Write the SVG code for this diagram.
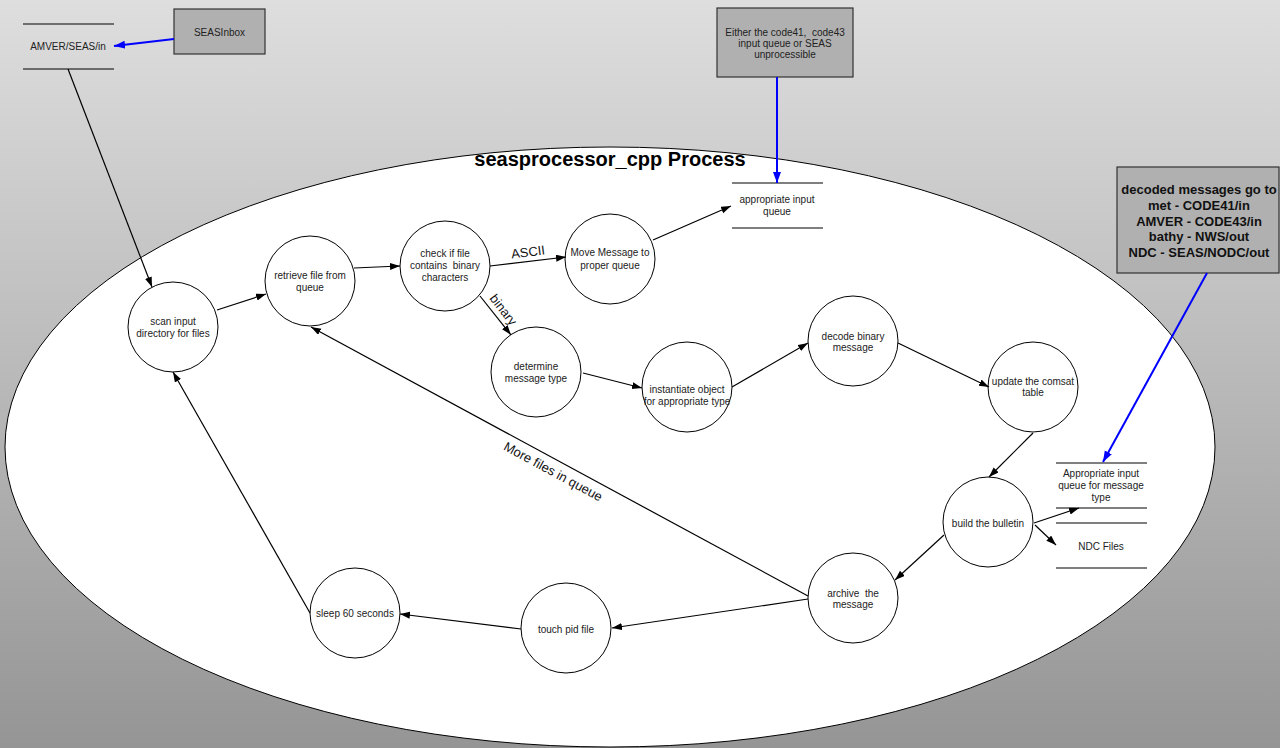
<svg xmlns="http://www.w3.org/2000/svg" width="1280" height="748" viewBox="0 0 1280 748">
<defs>
<linearGradient id="bg" x1="0" y1="0" x2="0" y2="1">
<stop offset="0" stop-color="#dedede"/>
<stop offset="1" stop-color="#959595"/>
</linearGradient>
<marker id="ah" markerUnits="userSpaceOnUse" markerWidth="11" markerHeight="8" refX="10" refY="3.5" orient="auto">
<path d="M0,0 L10,3.5 L0,7 z" fill="#000"/>
</marker>
<marker id="ahb" markerUnits="userSpaceOnUse" markerWidth="12" markerHeight="9" refX="11" refY="4" orient="auto">
<path d="M0,0 L11,4 L0,8 z" fill="#0000ff"/>
</marker>
<style>
.n circle{fill:#fff;stroke:#000;stroke-width:1}
.t{font-family:"Liberation Sans",Arial,sans-serif;font-size:10px;fill:#222;text-anchor:middle}
.st line{stroke:#000;stroke-width:1.2}
.box rect{fill:#b0b0b0;stroke:#333;stroke-width:1.2}
.c line{stroke:#000;stroke-width:1.2;marker-end:url(#ah)}
.c line.b{stroke:#0000ff;stroke-width:2;marker-end:url(#ahb)}
.lbl{font-family:"Liberation Sans",Arial,sans-serif;font-size:13px;fill:#111;text-anchor:middle}
.bt{font-family:"Liberation Sans",Arial,sans-serif;font-size:13px;font-weight:bold;fill:#111;text-anchor:middle}
</style>
</defs>
<rect x="0" y="0" width="1280" height="748" fill="url(#bg)"/>
<g id="process-boundary">
<ellipse cx="610" cy="447" rx="605" ry="300" fill="#fff" stroke="#000" stroke-width="1"/>
<text x="610" y="166" font-family="Liberation Sans,Arial,sans-serif" font-size="20" font-weight="bold" text-anchor="middle" fill="#000">seasprocessor_cpp Process</text>
</g>

<g id="store-amver" class="st">
<line x1="23" y1="24" x2="114" y2="24"/><line x1="23" y1="69" x2="114" y2="69"/>
<text class="t" x="68" y="49.5">AMVER/SEAS/in</text>
</g>
<g id="box-seasinbox" class="box">
<rect x="174" y="9" width="91" height="45"/>
<text class="t" x="219.5" y="35.5">SEASInbox</text>
</g>
<g id="box-either" class="box">
<rect x="717" y="8" width="136" height="69"/>
<text class="t" x="785" y="35.5" xml:space="preserve">Either the code41,  code43</text>
<text class="t" x="785" y="46.5">input queue or SEAS</text>
<text class="t" x="785" y="57.5">unprocessible</text>
</g>
<g id="box-decoded" class="box">
<rect x="1117" y="167" width="162" height="106"/>
<text class="bt" x="1199" y="194">decoded messages go to</text>
<text class="bt" x="1199" y="209.8">met - CODE41/in</text>
<text class="bt" x="1199" y="225.6">AMVER - CODE43/in</text>
<text class="bt" x="1199" y="241.4">bathy - NWS/out</text>
<text class="bt" x="1199" y="257.2">NDC - SEAS/NODC/out</text>
</g>
<g id="store-appropriate-input" class="st">
<line x1="732" y1="183" x2="823" y2="183"/><line x1="732" y1="228" x2="823" y2="228"/>
<text class="t" x="777" y="203">appropriate input</text>
<text class="t" x="777" y="215">queue</text>
</g>
<g id="store-msgtype-queue" class="st">
<line x1="1056" y1="463" x2="1147" y2="463"/><line x1="1056" y1="508" x2="1147" y2="508"/>
<text class="t" x="1101" y="477">Appropriate input</text>
<text class="t" x="1101" y="489">queue for message</text>
<text class="t" x="1101" y="501">type</text>
</g>
<g id="store-ndc" class="st">
<line x1="1056" y1="523" x2="1147" y2="523"/><line x1="1056" y1="568" x2="1147" y2="568"/>
<text class="t" x="1101" y="549.5">NDC Files</text>
</g>

<g id="n-scan" class="n"><circle cx="173" cy="327" r="45"/>
<text class="t" x="173" y="325">scan input</text><text class="t" x="173" y="337">directory for files</text></g>
<g id="n-retrieve" class="n"><circle cx="310" cy="281" r="45"/>
<text class="t" x="310" y="279">retrieve file from</text><text class="t" x="310" y="291">queue</text></g>
<g id="n-check" class="n"><circle cx="445" cy="266" r="45"/>
<text class="t" x="445" y="257">check if file</text><text class="t" x="445" y="269" xml:space="preserve">contains  binary</text><text class="t" x="445" y="281">characters</text></g>
<g id="n-move" class="n"><circle cx="610" cy="259" r="45"/>
<text class="t" x="610" y="256">Move Message to</text><text class="t" x="610" y="269">proper queue</text></g>
<g id="n-determine" class="n"><circle cx="536" cy="372" r="45"/>
<text class="t" x="536" y="370">determine</text><text class="t" x="536" y="382">message type</text></g>
<g id="n-instantiate" class="n"><circle cx="687" cy="387" r="45"/>
<text class="t" x="687" y="393">instantiate object</text><text class="t" x="687" y="405">for appropriate type</text></g>
<g id="n-decode" class="n"><circle cx="853" cy="341" r="45"/>
<text class="t" x="853" y="339.5">decode binary</text><text class="t" x="853" y="351">message</text></g>
<g id="n-update" class="n"><circle cx="1033" cy="387" r="45"/>
<text class="t" x="1033" y="384.5">update the comsat</text><text class="t" x="1033" y="396">table</text></g>
<g id="n-build" class="n"><circle cx="988" cy="522" r="45"/>
<text class="t" x="988" y="526.5">build the bulletin</text></g>
<g id="n-archive" class="n"><circle cx="853" cy="598" r="45"/>
<text class="t" x="853" y="596.5" xml:space="preserve">archive  the</text><text class="t" x="853" y="608">message</text></g>
<g id="n-touch" class="n"><circle cx="566" cy="628" r="45"/>
<text class="t" x="566" y="632.5">touch pid file</text></g>
<g id="n-sleep" class="n"><circle cx="355" cy="613" r="45"/>
<text class="t" x="355" y="617">sleep 60 seconds</text></g>

<g id="connectors" class="c">
<line class="b" x1="174" y1="39" x2="114" y2="46"/>
<line x1="68" y1="69" x2="152" y2="287"/>
<line x1="217" y1="310" x2="266" y2="294"/>
<line x1="354" y1="268" x2="400" y2="266"/>
<line x1="490" y1="266" x2="566" y2="257"/>
<line x1="480" y1="296" x2="511" y2="335"/>
<line x1="653" y1="240" x2="731" y2="206"/>
<line class="b" x1="777" y1="77" x2="777" y2="183"/>
<line x1="583" y1="373" x2="642" y2="388"/>
<line x1="732" y1="387" x2="808" y2="343"/>
<line x1="898" y1="343" x2="989" y2="387"/>
<line x1="1033" y1="433" x2="989" y2="477"/>
<line x1="1034" y1="523" x2="1079" y2="508"/>
<line x1="1035" y1="525" x2="1056" y2="545"/>
<line x1="944" y1="535" x2="895" y2="580"/>
<line class="b" x1="1207" y1="273" x2="1103" y2="462"/>
<line x1="808" y1="599" x2="612" y2="628"/>
<line x1="521" y1="629" x2="400" y2="614"/>
<line x1="310" y1="613" x2="173" y2="372"/>
<line x1="808" y1="596" x2="311" y2="327"/>
<text class="lbl" transform="translate(528,252) rotate(-7)" y="4.5">ASCII</text>
<text class="lbl" transform="translate(503,310) rotate(52)" y="4">binary</text>
<text class="lbl" transform="translate(553,472) rotate(28.5)" y="4">More files in queue</text>
</g>
</svg>
